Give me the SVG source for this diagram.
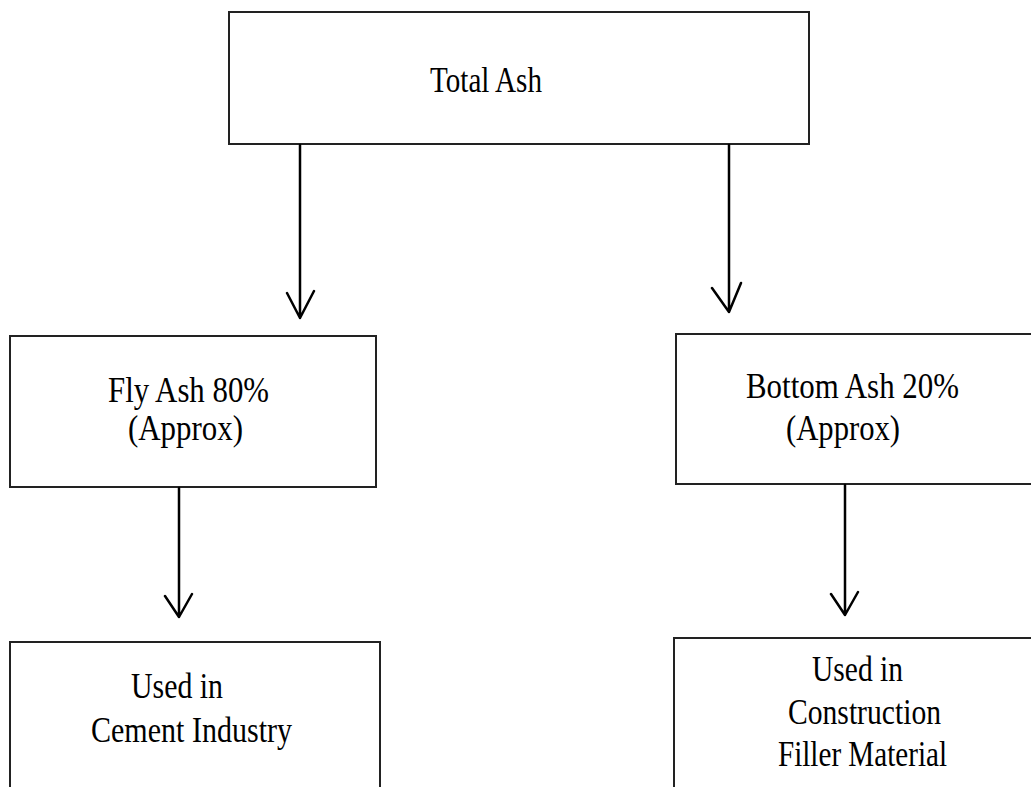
<svg xmlns="http://www.w3.org/2000/svg" width="1031" height="787" viewBox="0 0 1031 787">
<style>
.box{fill:#fff;stroke:#222;stroke-width:2}
.t{font-family:"Liberation Serif","Times New Roman",serif;font-size:36px;fill:#000}
.c{fill:none;stroke:#000;stroke-width:2.5;stroke-linecap:round;stroke-linejoin:round}
</style>
<rect width="1031" height="787" fill="#fff"/>
<g id="total-ash">
<rect class="box" x="229" y="12" width="580" height="132"/>
<text class="t" x="430" y="92" textLength="112" lengthAdjust="spacingAndGlyphs">Total Ash</text>
</g>
<g id="fly-ash">
<rect class="box" x="10" y="336" width="366" height="151"/>
<text class="t" x="108" y="402" textLength="161" lengthAdjust="spacingAndGlyphs">Fly Ash 80%</text>
<text class="t" x="128" y="440" textLength="115" lengthAdjust="spacingAndGlyphs">(Approx)</text>
</g>
<g id="bottom-ash">
<rect class="box" x="676" y="334" width="370" height="150"/>
<text class="t" x="746" y="398" textLength="213" lengthAdjust="spacingAndGlyphs">Bottom Ash 20%</text>
<text class="t" x="786" y="440" textLength="114" lengthAdjust="spacingAndGlyphs">(Approx)</text>
</g>
<g id="cement">
<rect class="box" x="10" y="642" width="370" height="160"/>
<text class="t" x="131" y="698" textLength="92" lengthAdjust="spacingAndGlyphs">Used in</text>
<text class="t" x="91" y="742" textLength="201" lengthAdjust="spacingAndGlyphs">Cement Industry</text>
</g>
<g id="construction">
<rect class="box" x="674" y="638" width="372" height="165"/>
<text class="t" x="812" y="681" textLength="91" lengthAdjust="spacingAndGlyphs">Used in</text>
<text class="t" x="788" y="724" textLength="153" lengthAdjust="spacingAndGlyphs">Construction</text>
<text class="t" x="778" y="766" textLength="169" lengthAdjust="spacingAndGlyphs">Filler Material</text>
</g>
<g id="connectors">
<path class="c" d="M300 145 V318 M287 293 L300 318 L314 291"/>
<path class="c" d="M729 145 V312 M712 288 L729 312 L741 283"/>
<path class="c" d="M179 488 V617 M165 596 L179 617 L192 594"/>
<path class="c" d="M845 485 V615 M831 594 L845 615 L858 592"/>
</g>
</svg>
